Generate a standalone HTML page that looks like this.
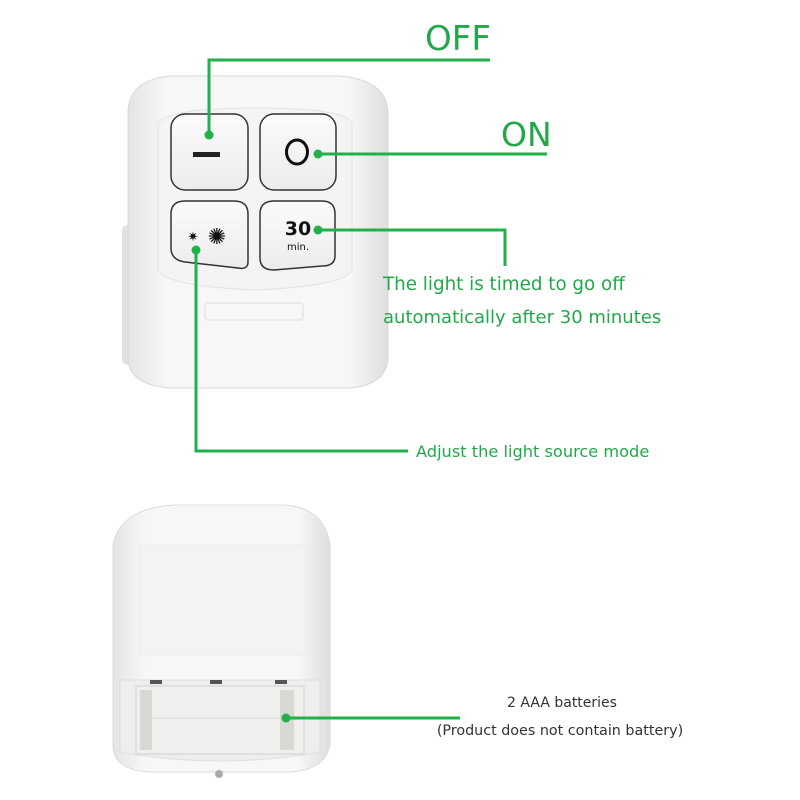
<!DOCTYPE html>
<html><head><style>
html,body{margin:0;padding:0;background:#fff;}
svg{display:block;}
text{font-family:"DejaVu Sans","Liberation Sans",sans-serif;}
</style></head><body>
<svg width="800" height="800" viewBox="0 0 800 800" xmlns="http://www.w3.org/2000/svg">
<defs>
<linearGradient id="bd" x1="0" y1="0" x2="1" y2="0">
<stop offset="0" stop-color="#e4e4e4"/><stop offset="0.15" stop-color="#f7f7f7"/><stop offset="0.85" stop-color="#f7f7f7"/><stop offset="1" stop-color="#dedede"/>
</linearGradient>
<linearGradient id="btn" x1="0" y1="0" x2="0" y2="1">
<stop offset="0" stop-color="#fbfbfb"/><stop offset="1" stop-color="#ececec"/>
</linearGradient>
</defs>
<rect x="122" y="225" width="18" height="140" rx="6" fill="#e2e2e2"/>
<rect x="370" y="225" width="16" height="140" rx="6" fill="#e2e2e2"/>
<path d="M128 110 Q130 80 170 76 L340 76 Q385 80 388 110 L388 360 Q385 385 350 388 L170 388 Q130 385 128 360 Z" fill="url(#bd)" stroke="#d8d8d8"/>
<path d="M158 123 Q170 108 255 108 Q345 108 352 123 L352 270 Q345 286 255 290 Q165 286 158 270 Z" fill="#f4f4f4" stroke="#e2e2e2"/>
<rect x="171" y="114" width="77" height="76" rx="14" fill="url(#btn)" stroke="#333" stroke-width="1.5"/>
<rect x="260" y="114" width="76" height="76" rx="14" fill="url(#btn)" stroke="#333" stroke-width="1.5"/>
<path d="M171 214 Q171 201 185 201 L234 201 Q248 201 248 214 L248 262 Q248 270 238 268 L185 262 Q171 260 171 248 Z" fill="url(#btn)" stroke="#333" stroke-width="1.5"/>
<path d="M260 214 Q260 201 274 201 L322 201 Q335 201 335 214 L335 256 Q335 266 322 266 L274 270 Q260 270 260 258 Z" fill="url(#btn)" stroke="#333" stroke-width="1.5"/>
<rect x="193" y="152" width="27" height="5" fill="#222"/>
<ellipse cx="297" cy="152" rx="10.5" ry="12" fill="none" stroke="#111" stroke-width="3"/>
<text x="298" y="235" font-size="19" font-weight="bold" text-anchor="middle" fill="#111" font-family="Liberation Sans">30</text>
<text x="298" y="250" font-size="10" text-anchor="middle" fill="#111" font-family="Liberation Sans">min.</text>
<text x="193" y="241" font-size="13" text-anchor="middle" fill="#111">✷</text>
<text x="217" y="244" font-size="22" text-anchor="middle" fill="#111">✺</text>
<rect x="205" y="303" width="98" height="17" rx="3" fill="none" stroke="#e6e6e6" stroke-width="1.5"/>
<path d="M113 545 Q120 508 175 505 L285 505 Q325 508 330 545 L330 745 Q325 770 290 772 L150 772 Q113 770 113 745 Z" fill="url(#bd)" stroke="#dcdcdc"/>
<rect x="140" y="545" width="165" height="110" fill="#f3f3f3" stroke="#ececec"/>
<path d="M120 680 L320 680 L320 752 Q220 770 120 752 Z" fill="#eeeeee" stroke="#ddd"/>
<rect x="136" y="686" width="168" height="68" fill="#f0efed" stroke="#d0d0d0"/>
<line x1="140" y1="718" x2="300" y2="718" stroke="#ddd"/>
<rect x="140" y="690" width="12" height="60" fill="#d8d8d4"/>
<rect x="280" y="690" width="14" height="60" fill="#d8d8d4"/>
<rect x="150" y="680" width="12" height="4" fill="#555"/><rect x="210" y="680" width="12" height="4" fill="#555"/><rect x="275" y="680" width="12" height="4" fill="#555"/>
<circle cx="219" cy="774" r="4" fill="#aaa"/>
<g stroke="#22b04a" stroke-width="3" fill="none">
<polyline points="209,135 209,60 490,60"/>
<polyline points="318,154 547,154"/>
<polyline points="318,230 505,230 505,266"/>
<polyline points="196,250 196,451 408,451"/>
<polyline points="286,718 460,718"/>
</g>
<g fill="#22b04a">
<circle cx="209" cy="135" r="4.5"/><circle cx="318" cy="154" r="4.5"/><circle cx="318" cy="230" r="4.5"/><circle cx="196" cy="250" r="4.5"/><circle cx="286" cy="718" r="4.5"/>
</g>
<g fill="#22a84a">
<text x="425" y="50" font-size="34">OFF</text>
<text x="501" y="146" font-size="33">ON</text>
<text x="383" y="290" font-size="18.3">The light is timed to go off</text>
<text x="383" y="323" font-size="18">automatically after 30 minutes</text>
<text x="416" y="457" font-size="16.2">Adjust the light source mode</text>
</g>
<g fill="#333">
<text x="562" y="707" font-size="14" text-anchor="middle">2 AAA batteries</text>
<text x="560" y="735" font-size="14.3" text-anchor="middle">(Product does not contain battery)</text>
</g>
</svg>
</body></html>
